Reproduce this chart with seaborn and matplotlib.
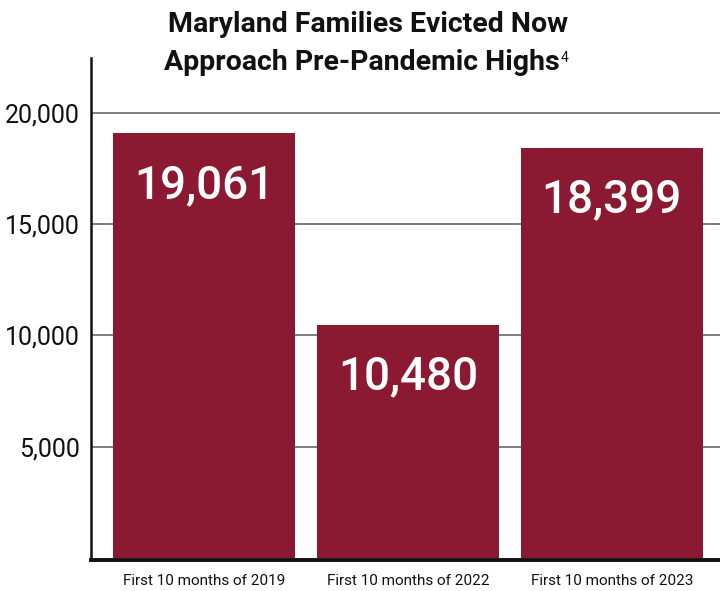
import matplotlib
matplotlib.use("Agg")
import matplotlib.pyplot as plt
import seaborn as sns
import pandas as pd

categories = ["First 10 months of 2019", "First 10 months of 2022", "First 10 months of 2023"]
values = [19061, 10480, 18399]
value_labels = ["19,061", "10,480", "18,399"]
yticks = [5000, 10000, 15000, 20000]
ytick_labels = ["5,000", "10,000", "15,000", "20,000"]

sns.set_theme(style="white")
plt.rcParams['font.family'] = ['Roboto', 'DejaVu Sans']

W, H = 720, 591
fig = plt.figure(figsize=(W/100, H/100), dpi=100)
ax = fig.add_axes([91/W, 1-560/H, (720-91)/W, (560-58)/H])

df = pd.DataFrame({"cat": categories, "val": values})
sns.barplot(data=df, x="cat", y="val", color="#8B1932", saturation=1, width=0.892, ax=ax, zorder=3)
for p in ax.patches:
    p.set_edgecolor("none")

ax.set_xlim(-0.554, 2.53)
ax.set_ylim(-90, 22450)
ax.set_yticks(yticks)
ax.set_yticklabels(ytick_labels, fontsize=18, color="#111111")
ax.tick_params(axis="y", length=0, pad=8)
ax.tick_params(axis="x", length=0, pad=10, labelsize=11, labelcolor="#111111")
ax.set_xlabel("")
ax.set_ylabel("")
ax.grid(axis="y", color="#666666", linewidth=1.2, zorder=0)
ax.set_axisbelow(True)
for s in ["top", "right"]:
    ax.spines[s].set_visible(False)
ax.spines["left"].set_color("#111111")
ax.spines["left"].set_linewidth(1.8)
ax.spines["bottom"].set_color("#111111")
ax.spines["bottom"].set_linewidth(2.8)

for i, (v, lab) in enumerate(zip(values, value_labels)):
    ax.annotate(lab, xy=(i, v), xytext=(0, -37), textcoords="offset points",
                ha="center", va="center", color="white", fontsize=33, fontweight="medium", zorder=5)

fig.text(368/W, 1-25/H, "Maryland Families Evicted Now", ha="center", va="center",
         fontsize=20.5, fontweight="bold", color="#111111")
t2 = fig.text(362/W, 1-62/H, "Approach Pre-Pandemic Highs", ha="center", va="center",
              fontsize=20.5, fontweight="bold", color="#111111")
fig.canvas.draw()
bb = t2.get_window_extent()
fig.text((bb.x1 + 0.5)/W, (bb.y1 - 3)/H, "4", ha="left", va="top", fontsize=10, color="#111111")

fig.savefig("out.png", dpi=100)
